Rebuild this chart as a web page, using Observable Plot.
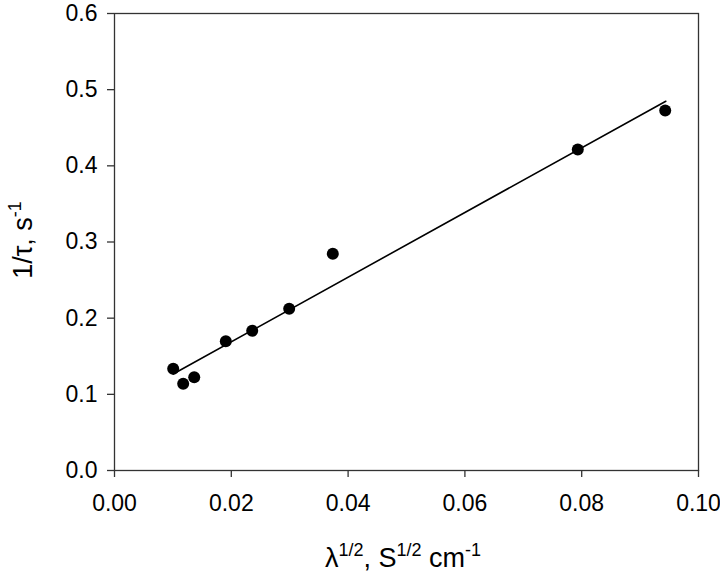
<!DOCTYPE html>
<html>
<head>
<meta charset="utf-8">
<script src="https://cdn.jsdelivr.net/npm/d3@7"></script>
<script src="https://cdn.jsdelivr.net/npm/@observablehq/plot@0.6"></script>
<style>
  html, body { margin: 0; padding: 0; background: #fff; }
  svg { display: block; }
</style>
</head>
<body>
<div id="chart"></div>
<script>
// Measured points
const sqrtLambda = [0.01005, 0.01176, 0.01365, 0.01906, 0.02358, 0.02991, 0.03738, 0.07933, 0.09430];
const invTau     = [0.1335, 0.1138, 0.1225, 0.1698, 0.1834, 0.2123, 0.2845, 0.4214, 0.4726];
// Fitted straight line (endpoints)
const fitX = [0.01005, 0.0944];
const fitY = [0.1266, 0.4848];
// Ticks
const xTicks = [0, 0.02, 0.04, 0.06, 0.08, 0.10];
const xTickLabels = ["0.00", "0.02", "0.04", "0.06", "0.08", "0.10"];
const yTicks = [0, 0.1, 0.2, 0.3, 0.4, 0.5, 0.6];
const yTickLabels = ["0.0", "0.1", "0.2", "0.3", "0.4", "0.5", "0.6"];
// Axis titles (base text + superscript parts)
const xTitleParts = [["λ", false], ["1/2", true], [", S", false], ["1/2", true], [" cm", false], ["-1", true]];
const yTitleParts = [["1/τ, s", false], ["-1", true]];

const points = sqrtLambda.map((x, i) => ({x, y: invTau[i]}));
const fit = fitX.map((x, i) => ({x, y: fitY[i]}));

const chart = Plot.plot({
  width: 720,
  height: 576,
  marginLeft: 114,
  marginRight: 22,
  marginTop: 13,
  marginBottom: 106,
  style: {fontFamily: "'Liberation Sans', Arial, sans-serif", fontSize: "23px", color: "#000", background: "#fff"},
  x: {domain: [0, 0.1]},
  y: {domain: [0, 0.6]},
  marks: [
    Plot.frame({stroke: "#333", strokeWidth: 1.3}),
    Plot.axisX({ticks: xTicks, tickFormat: (d) => xTickLabels[xTicks.indexOf(d)], tickSize: 7, tickPadding: 17, label: null, stroke: "#333", strokeWidth: 1.3, fill: "#000", fontSize: 23}),
    Plot.axisY({ticks: yTicks, tickFormat: (d) => yTickLabels[yTicks.indexOf(d)], tickSize: 7, tickPadding: 10, label: null, stroke: "#333", strokeWidth: 1.3, fill: "#000", fontSize: 23}),
    Plot.line(fit, {x: "x", y: "y", stroke: "#000", strokeWidth: 1.6}),
    Plot.dot(points, {x: "x", y: "y", r: 6, fill: "#000", stroke: "none"})
  ]
});

document.getElementById("chart").appendChild(chart);

const svg = d3.select(chart);
function addTitle(parts, attrs) {
  const t = svg.append("text")
    .attr("font-family", "'Liberation Sans', Arial, sans-serif")
    .attr("font-size", 27)
    .attr("fill", "#000")
    .attr("text-anchor", "middle");
  for (const [k, v] of Object.entries(attrs)) t.attr(k, v);
  let raised = false;
  for (const [s, sup] of parts) {
    const ts = t.append("tspan").text(s);
    if (sup && !raised) { ts.attr("dy", -11).attr("font-size", 18); raised = true; }
    else if (sup) { ts.attr("font-size", 18); }
    else if (!sup && raised) { ts.attr("dy", 11); raised = false; }
  }
  return t;
}
addTitle(xTitleParts, {x: 403, y: 567});
addTitle(yTitleParts, {transform: "translate(32,240) rotate(-90)"});
</script>
</body>
</html>
